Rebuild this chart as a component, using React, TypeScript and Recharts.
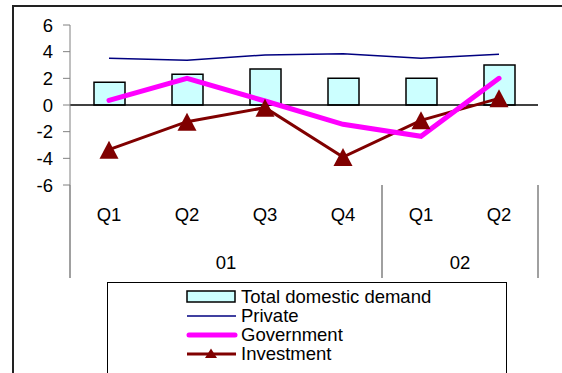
import {
  ComposedChart,
  Bar,
  Line,
  XAxis,
  YAxis,
  ReferenceLine,
} from "recharts";

const quarters = ["Q1", "Q2", "Q3", "Q4", "Q1", "Q2"];
const years = ["01", "01", "01", "01", "02", "02"];
const totalDemand = [1.7, 2.3, 2.7, 2.0, 2.0, 3.0];
const privateCons = [3.5, 3.35, 3.75, 3.85, 3.5, 3.8];
const government = [0.35, 2.0, 0.3, -1.45, -2.35, 2.0];
const investment = [-3.35, -1.25, -0.2, -3.9, -1.15, 0.5];
const yTicks = [-6, -4, -2, 0, 2, 4, 6];

const data = quarters.map((q, i) => ({
  key: i,
  quarter: q,
  year: years[i],
  total: totalDemand[i],
  private: privateCons[i],
  government: government[i],
  investment: investment[i],
}));

const FONT = "'Liberation Sans', Arial, sans-serif";

function Triangle(props: any) {
  const { cx, cy } = props;
  if (cx == null || cy == null) return null;
  return (
    <polygon
      points={`${cx},${cy - 9} ${cx - 9.5},${cy + 9} ${cx + 9.5},${cy + 9}`}
      fill="#800000"
    />
  );
}

// two-level category labels: quarter row, then year row with dividers
function CategoryTick(props: any) {
  const { x, y, index, width } = props;
  const step = width / quarters.length;
  const year = years[index];
  const first = index === 0 || years[index - 1] !== year;
  const last = index === years.length - 1;
  let count = 0;
  for (let j = index; j < years.length && years[j] === year; j++) count++;
  return (
    <g>
      <text
        x={x}
        y={y + 36}
        textAnchor="middle"
        fontSize={18.5}
        fontFamily={FONT}
        fill="#000"
      >
        {quarters[index]}
      </text>
      {first && (
        <>
          <line
            x1={x - step / 2}
            x2={x - step / 2}
            y1={y}
            y2={y + 93}
            stroke="#808080"
            strokeWidth={1.5}
          />
          <text
            x={x + ((count - 1) / 2) * step}
            y={y + 84}
            textAnchor="middle"
            fontSize={18.5}
            fontFamily={FONT}
            fill="#000"
          >
            {year}
          </text>
        </>
      )}
      {last && (
        <line
          x1={x + step / 2}
          x2={x + step / 2}
          y1={y}
          y2={y + 93}
          stroke="#808080"
          strokeWidth={1.5}
        />
      )}
    </g>
  );
}

const legendItems = [
  { label: "Total domestic demand", kind: "bar" },
  { label: "Private", kind: "private" },
  { label: "Government", kind: "government" },
  { label: "Investment", kind: "investment" },
];

function LegendIcon({ kind }: { kind: string }) {
  return (
    <svg width={52} height={19} style={{ display: "block" }}>
      {kind === "bar" && (
        <rect x={1} y={4} width={48} height={11} fill="#CCFFFF" stroke="#000" strokeWidth={1.5} />
      )}
      {kind === "private" && (
        <line x1={1} x2={50} y1={10} y2={10} stroke="#000080" strokeWidth={1.5} />
      )}
      {kind === "government" && (
        <line x1={3} x2={49} y1={10} y2={10} stroke="#FF00FF" strokeWidth={5} strokeLinecap="round" />
      )}
      {kind === "investment" && (
        <>
          <line x1={1} x2={50} y1={10} y2={10} stroke="#800000" strokeWidth={3} />
          <polygon points="25,4.5 19,14 31,14" fill="#800000" />
        </>
      )}
    </svg>
  );
}

export default function App() {
  return (
    <div
      style={{
        position: "absolute",
        left: 0,
        top: 0,
        width: 562,
        height: 373,
        overflow: "hidden",
        background: "#fff",
        fontFamily: FONT,
      }}
    >
      <div
        style={{
          position: "absolute",
          left: 12,
          top: 5,
          width: 600,
          height: 400,
          borderLeft: "2px solid #222",
          borderTop: "2px solid #222",
        }}
      />
      <ComposedChart
        width={562}
        height={373}
        data={data}
        margin={{ top: 25, right: 24, left: 20, bottom: 93 }}
        style={{ position: "absolute", left: 0, top: 0 }}
      >
        <XAxis
          dataKey="key"
          axisLine={false}
          tickLine={false}
          tickSize={0}
          tickMargin={0}
          height={95}
          interval={0}
          tick={<CategoryTick />}
        />
        <YAxis
          domain={[-6, 6]}
          ticks={yTicks}
          width={50}
          interval={0}
          stroke="#808080"
          tickSize={7}
          tickMargin={10}
          tick={{ fill: "#000", fontSize: 18.5, fontFamily: FONT }}
        />
        <Bar
          dataKey="total"
          barSize={31}
          fill="#CCFFFF"
          stroke="#000"
          strokeWidth={1.5}
          isAnimationActive={false}
        />
        <ReferenceLine y={0} stroke="#000" strokeWidth={1.5} />
        <Line
          dataKey="investment"
          stroke="#800000"
          strokeWidth={3}
          dot={false}
          isAnimationActive={false}
        />
        <Line
          dataKey="private"
          stroke="#000080"
          strokeWidth={1.5}
          dot={false}
          isAnimationActive={false}
        />
        <Line
          dataKey="government"
          stroke="#FF00FF"
          strokeWidth={5}
          strokeLinecap="round"
          dot={false}
          isAnimationActive={false}
        />
        {/* markers drawn last so they sit on top of the lines */}
        <Line
          dataKey="investment"
          stroke="none"
          dot={<Triangle />}
          activeDot={false}
          legendType="none"
          isAnimationActive={false}
        />
      </ComposedChart>
      <div
        style={{
          position: "absolute",
          left: 107,
          top: 282,
          width: 398,
          height: 120,
          border: "1px solid #000",
          paddingTop: 4,
        }}
      >
        {legendItems.map((item) => (
          <div
            key={item.label}
            style={{
              display: "flex",
              alignItems: "center",
              height: 19,
              marginLeft: 78,
              fontSize: 18.5,
              color: "#000",
            }}
          >
            <LegendIcon kind={item.kind} />
            <span style={{ marginLeft: 3, lineHeight: "19px" }}>{item.label}</span>
          </div>
        ))}
      </div>
    </div>
  );
}
